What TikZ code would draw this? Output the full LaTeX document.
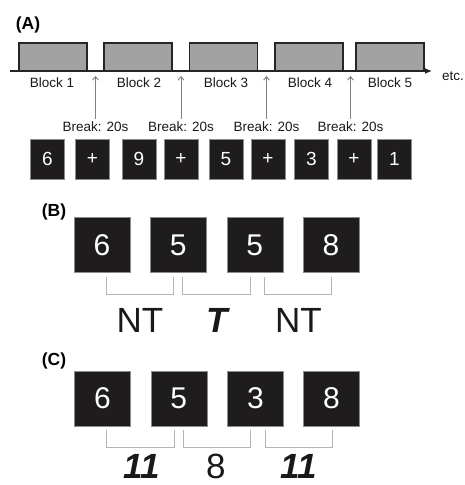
\documentclass[tikz,border=0pt]{standalone}
\usepackage{fontspec}
\setmainfont{Liberation Sans}
\usetikzlibrary{arrows.meta}
\definecolor{stimfill}{HTML}{1F1C1D}
\definecolor{blockgray}{HTML}{A2A2A2}
\definecolor{brackgray}{HTML}{B5B5B5}
\tikzset{
  panel/.style={inner sep=0pt, font=\fontsize{17.5}{17.5}\selectfont\bfseries},
  blk/.style={draw=black!85, line width=1.2pt, fill=blockgray, minimum width=68, minimum height=28, inner sep=0pt},
  axis/.style={draw=black!85, line width=1.2pt, -{Latex[length=7pt,width=6pt]}},
  txt/.style={inner sep=0pt, text=black!90, font=\fontsize{13.5}{13.5}\selectfont},
  brkarrow/.style={draw=black!50, line width=0.9pt, -{Straight Barb[length=3.5pt,width=6pt]}},
  stim/.style={draw=black!45, line width=0.4pt, fill=stimfill, text=white, minimum width=34, minimum height=40, inner sep=0pt, font=\fontsize{19}{19}\selectfont},
  bigstim/.style={stim, minimum width=56, minimum height=55, font=\fontsize{30}{30}\selectfont},
  brack/.style={draw=brackgray, line width=0.9pt},
  cond/.style={inner sep=0pt, text=black!90, font=\fontsize{35}{35}\selectfont},
  bcond/.style={cond, font=\fontsize{35}{35}\selectfont\bfseries\itshape}
}
\begin{document}
\begin{tikzpicture}[x=1pt,y=-1pt]
    \useasboundingbox (0,0) rectangle (465,485);
    % (A) blocks on the time line
    \node[panel] (pA) at (28,25) {(A)};
    \node[blk] (blk1) at (53,57) {};
    \node[blk] (blk2) at (138,57) {};
    \node[blk] (blk3) at (223.5,57) {};
    \node[blk] (blk4) at (309,57) {};
    \node[blk] (blk5) at (390,57) {};
    \coordinate (t0) at (10,71);
    \coordinate (t1) at (432,71);
    \draw[axis] (t0) -- (t1);
    \node[txt] (etc) at (453,76) {etc.};
    \node[txt] (lb1) at (52,83) {Block 1};
    \node[txt] (lb2) at (139,83) {Block 2};
    \node[txt] (lb3) at (226,83) {Block 3};
    \node[txt] (lb4) at (310,83) {Block 4};
    \node[txt] (lb5) at (390,83) {Block 5};
    % breaks
    \coordinate (g1) at (95.5,76);
    \coordinate (g2) at (181,76);
    \coordinate (g3) at (266.5,76);
    \coordinate (g4) at (350.5,76);
    \node[txt] (brk1) at (95.5,127) {Break: 20s};
    \node[txt] (brk2) at (181,127) {Break: 20s};
    \node[txt] (brk3) at (266.5,127) {Break: 20s};
    \node[txt] (brk4) at (350.5,127) {Break: 20s};
    \draw[brkarrow] (brk1.north) ++(0,-3) -- (g1);
    \draw[brkarrow] (brk2.north) ++(0,-3) -- (g2);
    \draw[brkarrow] (brk3.north) ++(0,-3) -- (g3);
    \draw[brkarrow] (brk4.north) ++(0,-3) -- (g4);
    % stimulus stream
    \node[stim] (s1) at (47.5,159.3) {6};
    \node[stim] (s2) at (92.5,159.3) {+};
    \node[stim] (s3) at (138.8,159.3) {9};
    \node[stim] (s4) at (181,159.3) {+};
    \node[stim] (s5) at (226,159.3) {5};
    \node[stim] (s6) at (268,159.3) {+};
    \node[stim] (s7) at (311.3,159.3) {3};
    \node[stim] (s8) at (354,159.3) {+};
    \node[stim] (s9) at (394.5,159.3) {1};

    % (B) targets
    \node[panel] (pB) at (54,212) {(B)};
    \node[bigstim] (b1) at (102,245) {6};
    \node[bigstim] (b2) at (178.2,245) {5};
    \node[bigstim] (b3) at (254.8,245) {5};
    \node[bigstim] (b4) at (331,245) {8};
    \draw[brack] (106,277.3) |- (173.7,294.7) -- (173.7,277.3);
    \draw[brack] (182.3,277.3) |- (250,294.7) -- (250,277.3);
    \draw[brack] (264.3,277.3) |- (331.7,294.7) -- (331.7,277.3);
    \node[cond] (nt1) at (140,320) {NT};
    \node[bcond] (tg) at (217,320) {T};
    \node[cond] (nt2) at (298.5,320) {NT};

    % (C) sums
    \node[panel] (pC) at (54,360.5) {(C)};
    \node[bigstim] (c1) at (102.5,398.3) {6};
    \node[bigstim] (c2) at (178.8,398.3) {5};
    \node[bigstim] (c3) at (255.5,398.3) {3};
    \node[bigstim] (c4) at (331.5,398.3) {8};
    \draw[brack] (106.7,430) |- (174.3,447.7) -- (174.3,430);
    \draw[brack] (183,430) |- (250.7,447.7) -- (250.7,430);
    \draw[brack] (265,430) |- (332.3,447.7) -- (332.3,430);
    \node[bcond] (sum1) at (141.7,466) {11};
    \node[cond] (sum2) at (215.8,466) {8};
    \node[bcond] (sum3) at (299,466) {11};
\end{tikzpicture}
\end{document}
